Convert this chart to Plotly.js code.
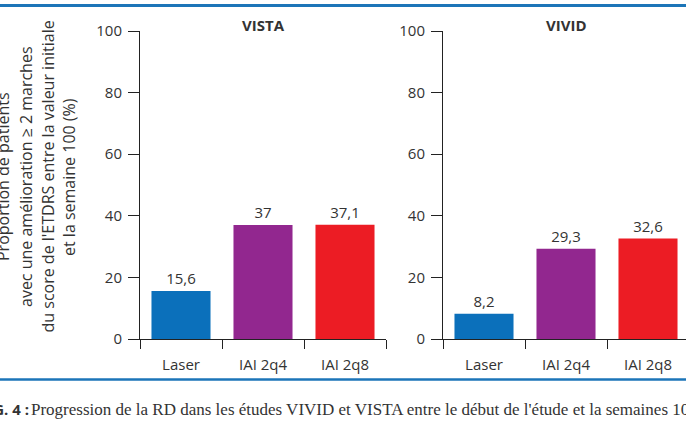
<!DOCTYPE html>
<html>
<head>
<meta charset="utf-8">
<script src="https://cdn.plot.ly/plotly-3.0.1.min.js"></script>
<style>
html,body{margin:0;padding:0;overflow:hidden;background:#fff;width:686px;height:430px;}
#chart{position:absolute;left:-20px;top:0;width:720px;height:430px;}
</style>
</head>
<body>
<div id="chart"></div>
<script>
// Data
const categories = ['Laser', 'IAI 2q4', 'IAI 2q8'];
const vistaValues = [15.6, 37, 37.1];
const vividValues = [8.2, 29.3, 32.6];
const barColors = ['#0b70bb', '#92278f', '#ec1c24'];
const yTicks = [0, 20, 40, 60, 80, 100];
const panelTitles = ['VISTA', 'VIVID'];
const yTitleLines = ['Proportion de patients', 'avec une amélioration ≥ 2 marches', "du score de l'ETDRS entre la valeur initiale", 'et la semaine 100 (%)'];
const captionBold = 'FIG. 4 :';
const captionText = "Progression de la RD dans les études VIVID et VISTA entre le début de l'étude et la semaines 100";

const fmt = v => v.toString().replace('.', ',');
const FONT = 'Open Sans, sans-serif';
const DARK = '#333333';

function barTrace(vals, xa, ya) {
  return {
    type: 'bar', x: categories, y: vals, xaxis: xa, yaxis: ya,
    marker: {color: barColors}, text: vals.map(fmt), textposition: 'outside',
    textfont: {family: FONT, size: 15, color: DARK}, cliponaxis: false,
    hoverinfo: 'none', showlegend: false
  };
}

const W = 720, H = 430, OFF = 20;
const px = x => (x + OFF) / W;
const py = y => (H - y) / H;

function xAxis(d0, d1, anchor) {
  return {
    domain: [px(d0), px(d1)], anchor: anchor, type: 'category',
    range: [-0.5, 2.5], showline: true, linecolor: '#222', linewidth: 1,
    ticks: 'outside', tickson: 'boundaries', ticklen: 9, tickcolor: '#222',
    ticklabelstandoff: 12,
    tickfont: {family: FONT, size: 15, color: DARK}, showgrid: false, zeroline: false,
    fixedrange: true
  };
}
function yAxis(anchor) {
  return {
    domain: [py(339), py(31)], anchor: anchor, range: [0, 100],
    tickvals: yTicks, ticktext: yTicks.map(String), showline: true, linecolor: '#222', linewidth: 1,
    ticks: 'outside', ticklen: 11, tickcolor: '#222', ticklabelstandoff: 3,
    tickfont: {family: FONT, size: 15, color: DARK}, showgrid: false, zeroline: false,
    fixedrange: true
  };
}

const yTitleX = [3, 26, 47.5, 69];
const annotations = [
  {text: panelTitles[0], xref: 'paper', yref: 'paper', x: px(263), y: py(25), xanchor: 'center', yanchor: 'middle', showarrow: false, font: {family: FONT, size: 15, color: DARK, weight: 'bold'}},
  {text: panelTitles[1], xref: 'paper', yref: 'paper', x: px(566), y: py(25), xanchor: 'center', yanchor: 'middle', showarrow: false, font: {family: FONT, size: 15, color: DARK, weight: 'bold'}},
  {text: '<b>' + captionBold + '</b>', xref: 'paper', yref: 'paper', x: px(31), y: py(409), xanchor: 'right', yanchor: 'middle', showarrow: false, font: {family: FONT, size: 15, color: DARK}},
  {text: captionText, xref: 'paper', yref: 'paper', x: px(29), y: py(409), xanchor: 'left', yanchor: 'middle', showarrow: false, font: {family: 'Liberation Serif, serif', size: 17, color: DARK}}
];
yTitleLines.forEach((t, i) => annotations.push({
  text: t, xref: 'paper', yref: 'paper', x: px(yTitleX[i]), y: py(177), xanchor: 'center', yanchor: 'middle',
  textangle: -90, showarrow: false, font: {family: FONT, size: 16, color: DARK}
}));

const layout = {
  width: W, height: H, margin: {l: 0, r: 0, t: 0, b: 0},
  paper_bgcolor: '#fff', plot_bgcolor: '#fff', bargap: 0.28,
  xaxis: xAxis(140, 386, 'y'), yaxis: yAxis('x'),
  xaxis2: xAxis(443, 689, 'y2'), yaxis2: yAxis('x2'),
  annotations: annotations,
  shapes: [
    {type: 'line', xref: 'paper', yref: 'paper', x0: 0, x1: 1, y0: py(5.5), y1: py(5.5), line: {color: '#1c75b8', width: 3}},
    {type: 'line', xref: 'paper', yref: 'paper', x0: 0, x1: 1, y0: py(379.5), y1: py(379.5), line: {color: '#1c75b8', width: 2.5}}
  ]
};

Plotly.newPlot('chart', [barTrace(vistaValues, 'x', 'y'), barTrace(vividValues, 'x2', 'y2')], layout, {displayModeBar: false, staticPlot: true});
</script>
</body>
</html>
